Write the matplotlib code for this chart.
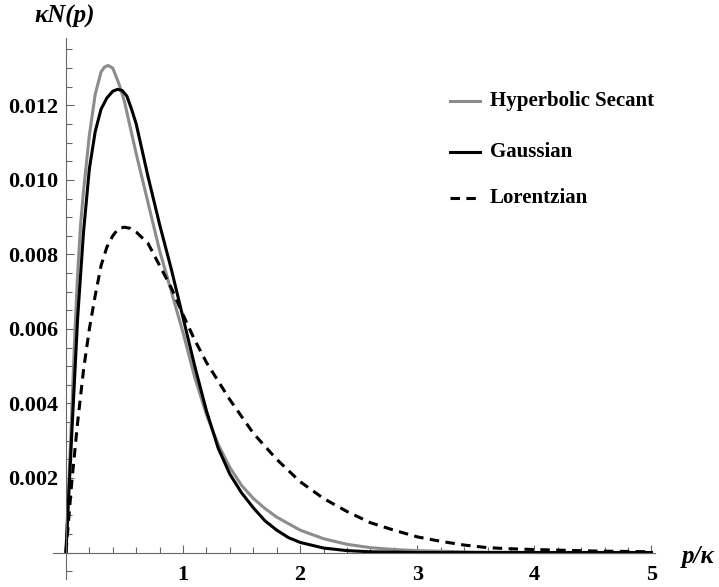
import numpy as np
import matplotlib
matplotlib.use("Agg")
import matplotlib.pyplot as plt
from matplotlib.ticker import MultipleLocator, FixedLocator
from matplotlib.lines import Line2D

# valores (p/kappa, kappa N(p))
x_sech = [0, 0.05, 0.075, 0.1, 0.125, 0.15, 0.2, 0.25, 0.3, 0.33, 0.36, 0.4, 0.45, 0.5, 0.6, 0.7,
          0.8, 0.9, 1.0, 1.1, 1.2, 1.3, 1.4, 1.5, 1.6, 1.7, 1.8, 2.0, 2.2, 2.4, 2.6, 2.8, 3.0,
          3.5, 4.0, 5.0]
y_sech = [0, 0.0038, 0.0058, 0.0075, 0.0088, 0.0097, 0.0112, 0.0123, 0.0129, 0.01303, 0.01307,
          0.0130, 0.0126, 0.0121, 0.0107, 0.0094, 0.0081, 0.0070, 0.0059, 0.0047, 0.0037,
          0.0029, 0.00228, 0.0018, 0.00145, 0.00118, 0.00095, 0.0006, 0.00037, 0.00022,
          0.00013, 0.00008, 0.00005, 0.00001, 0.0, 0.0]

x_gauss = [0, 0.05, 0.1, 0.15, 0.2, 0.25, 0.3, 0.35, 0.4, 0.44, 0.48, 0.52, 0.56, 0.6, 0.7, 0.8,
           0.9, 1.0, 1.1, 1.2, 1.3, 1.4, 1.5, 1.6, 1.7, 1.8, 1.9, 2.0, 2.2, 2.4, 2.6, 3.0, 5.0]
y_gauss = [0, 0.0032, 0.0063, 0.0086, 0.0103, 0.0113, 0.0119, 0.0122, 0.01238, 0.01243, 0.0124,
           0.01225, 0.0119, 0.0115, 0.0101, 0.0088, 0.0076, 0.0063, 0.0050, 0.0038, 0.0028,
           0.0021, 0.0016, 0.0012, 0.00085, 0.0006, 0.0004, 0.00027, 0.00012, 0.00005,
           0.00002, 0, 0]

x_lor = [0, 0.05, 0.1, 0.15, 0.2, 0.25, 0.3, 0.35, 0.4, 0.45, 0.5, 0.55, 0.6, 0.7, 0.8, 0.9,
         1.0, 1.1, 1.2, 1.4, 1.6, 1.8, 2.0, 2.2, 2.4, 2.6, 2.8, 3.0, 3.2, 3.4, 3.6, 3.8, 4.0, 4.5, 5.0]
y_lor = [0, 0.0019, 0.0035, 0.0049, 0.0060, 0.0069, 0.0077, 0.0082, 0.0085, 0.0087, 0.00873,
         0.0087, 0.0086, 0.0083, 0.0077, 0.0071, 0.00638, 0.0057, 0.0051, 0.0041, 0.0032,
         0.0025, 0.0019, 0.00145, 0.0011, 0.0008, 0.0006, 0.00042, 0.0003, 0.0002, 0.00013,
         0.0001, 0.00008, 0.00004, 0.00002]

etiquetas = ['Hyperbolic Secant', 'Gaussian', 'Lorentzian']

W, H = 719, 587
fuente = 'Liberation Serif'
gris = '#8c8c8c'
eje = '#666666'

fig = plt.figure(figsize=(W / 100, H / 100), dpi=100)
# ejes ubicados en pixeles: x de 53 a 655, y de 38 a 579
ax = fig.add_axes([53.3 / W, (H - 579) / H, (655 - 53.3) / W, (579 - 38.3) / H])
ax.set_xlim(-0.108, 5.03)
ax.set_ylim(-0.000711, 0.0138)

lw = 2.2
ax.plot(x_sech, y_sech, color=gris, lw=lw, solid_joinstyle='round')
ax.plot(x_gauss, y_gauss, color='black', lw=lw, solid_joinstyle='round')
ax.plot(x_lor, y_lor, color='black', lw=lw, dashes=(3.1, 2.1))

for lado in ['top', 'right']:
    ax.spines[lado].set_visible(False)
for lado in ['left', 'bottom']:
    ax.spines[lado].set_position(('data', 0))
    ax.spines[lado].set_color(eje)
    ax.spines[lado].set_linewidth(0.8)

ax.xaxis.set_major_locator(FixedLocator([1, 2, 3, 4, 5]))
ax.xaxis.set_minor_locator(MultipleLocator(0.2))
ax.yaxis.set_major_locator(FixedLocator([0.002, 0.004, 0.006, 0.008, 0.010, 0.012]))
ax.yaxis.set_minor_locator(MultipleLocator(0.0005))
ax.set_xticklabels(['1', '2', '3', '4', '5'])
ax.set_yticklabels(['0.002', '0.004', '0.006', '0.008', '0.010', '0.012'])

ax.tick_params(which='both', direction='in', color=eje, width=0.8)
ax.tick_params(which='major', length=5.8)
ax.tick_params(which='minor', length=4)
ax.tick_params(axis='x', which='major', pad=9)
ax.tick_params(axis='y', which='major', pad=5.5)
for t in ax.get_xticklabels() + ax.get_yticklabels():
    t.set_fontfamily(fuente)
    t.set_fontweight('bold')
    t.set_fontsize(16)

# etiquetas de los ejes
fig.text(65 / W, 1 - 16 / H, 'κN(p)', family=fuente, weight='bold', style='italic',
         fontsize=18, ha='center', va='center')
fig.text(698 / W, 1 - 556 / H, 'p/κ', family=fuente, weight='bold', style='italic',
         fontsize=18, ha='center', va='center')

# leyenda armada a mano
estilos = [dict(color=gris), dict(color='black'), dict(color='black', dashes=(3.1, 2.1))]
filas = [101, 152, 198]
for et, est, yy in zip(etiquetas, estilos, filas):
    fig.add_artist(Line2D([450 / W, 480 / W], [1 - yy / H, 1 - yy / H], lw=lw, **est))
    fig.text(490 / W, 1 - yy / H, et, family=fuente, weight='bold', fontsize=15,
             ha='left', va='center')

fig.savefig('out.png', dpi=100)
